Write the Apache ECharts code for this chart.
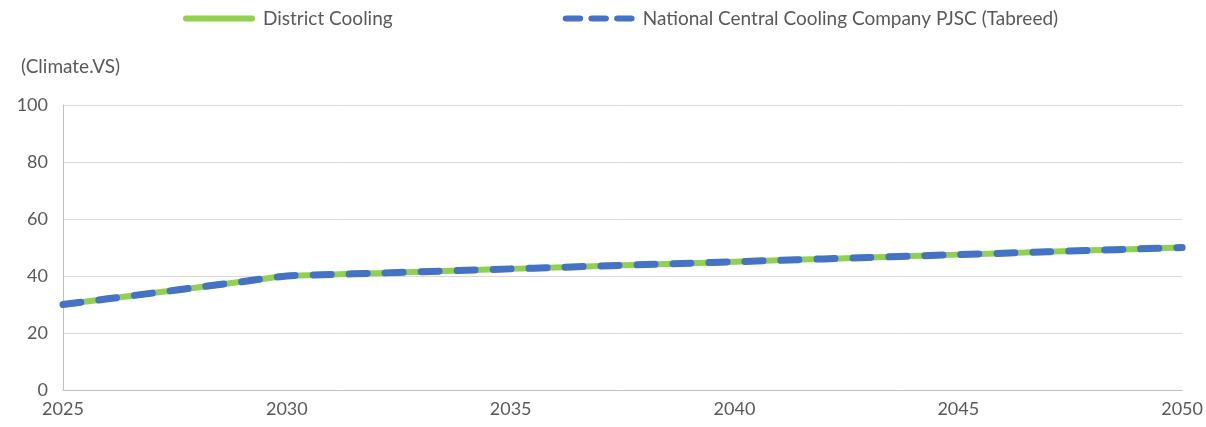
<!DOCTYPE html>
<html>
<head>
<meta charset="utf-8">
<script src="https://cdn.jsdelivr.net/npm/echarts@6/dist/echarts.min.js"></script>
<style>
  html, body { margin: 0; padding: 0; background: #ffffff; }
  #chart { width: 1206px; height: 427px; }
</style>
</head>
<body>
<div id="chart"></div>
<script>
// Yearly values, 2025-2050
const years = [2025, 2026, 2027, 2028, 2029, 2030, 2031, 2032, 2033, 2034, 2035, 2036, 2037,
  2038, 2039, 2040, 2041, 2042, 2043, 2044, 2045, 2046, 2047, 2048, 2049, 2050];
const districtCooling = [30, 32, 34, 36, 38, 40, 40.5, 41, 41.5, 42, 42.5, 43, 43.5,
  44, 44.5, 45, 45.5, 46, 46.5, 47, 47.5, 48, 48.5, 49, 49.5, 50];
const tabreed = [30, 32, 34, 36, 38, 40, 40.5, 41, 41.5, 42, 42.5, 43, 43.5,
  44, 44.5, 45, 45.5, 46, 46.5, 47, 47.5, 48, 48.5, 49, 49.5, 50];
const seriesNames = ['District Cooling', 'National Central Cooling Company PJSC (Tabreed)'];
const yAxisName = '(Climate.VS)';

const pairs = (vals) => years.map((y, i) => [y, vals[i]]);

const font = 'Lato, "Open Sans", "Liberation Sans", sans-serif';
const textColor = '#595959';

// legend glyphs: a solid rounded bar and three rounded dashes
const solidIcon = 'path://M3,0 h66 a3,3 0 0 1 0,6 h-66 a3,3 0 0 1 0,-6 z';
const dashIcon = 'path://M3.5,0 h13 a3.5,3.5 0 0 1 0,7 h-13 a3.5,3.5 0 0 1 0,-7 z' +
  ' M28.5,0 h13 a3.5,3.5 0 0 1 0,7 h-13 a3.5,3.5 0 0 1 0,-7 z' +
  ' M53.5,0 h13 a3.5,3.5 0 0 1 0,7 h-13 a3.5,3.5 0 0 1 0,-7 z';

const chart = echarts.init(document.getElementById('chart'), null, { renderer: 'canvas' });
chart.setOption({
  animation: false,
  backgroundColor: '#ffffff',
  textStyle: { fontFamily: font },
  title: {
    text: yAxisName,
    left: 16,
    top: 52,
    textStyle: { fontFamily: font, fontSize: 19, fontWeight: 'normal', color: textColor }
  },
  legend: {
    left: 183,
    top: 9,
    padding: 0,
    itemWidth: 72,
    itemHeight: 6,
    itemGap: 170,
    symbolKeepAspect: false,
    textStyle: { fontFamily: font, fontSize: 19, color: textColor, padding: [0, 0, 0, 3] },
    data: [
      { name: seriesNames[0], icon: solidIcon, itemStyle: { color: '#92d050' } },
      { name: seriesNames[1], icon: dashIcon, itemStyle: { color: '#4472c4' } }
    ]
  },
  grid: { left: 63, right: 23, top: 105, bottom: 37, containLabel: false },
  xAxis: {
    type: 'value',
    min: 2025,
    max: 2050,
    interval: 5,
    axisLine: { show: true, lineStyle: { color: '#bfbfbf', width: 1 } },
    axisTick: { show: false },
    splitLine: { show: false },
    axisLabel: {
      color: textColor, fontFamily: font, fontSize: 18, margin: 10,
      formatter: (v) => String(v)
    }
  },
  yAxis: {
    type: 'value',
    min: 0,
    max: 100,
    interval: 20,
    axisLine: { show: true, lineStyle: { color: '#bfbfbf', width: 1 } },
    axisTick: { show: false },
    splitLine: { show: true, lineStyle: { color: '#d9d9d9', width: 1 } },
    axisLabel: { color: textColor, fontFamily: font, fontSize: 18, margin: 15 }
  },
  series: [
    {
      name: seriesNames[0],
      type: 'line',
      data: pairs(districtCooling),
      showSymbol: false,
      symbol: 'none',
      smooth: 0.3,
      lineStyle: { color: '#92d050', width: 6 },
      itemStyle: { color: '#92d050' },
      z: 2
    },
    {
      name: seriesNames[1],
      type: 'line',
      data: pairs(tabreed),
      showSymbol: false,
      symbol: 'none',
      smooth: 0.3,
      lineStyle: { color: '#4472c4', width: 7, type: [18, 18], cap: 'round' },
      itemStyle: { color: '#4472c4' },
      z: 3
    }
  ]
});
</script>
</body>
</html>
